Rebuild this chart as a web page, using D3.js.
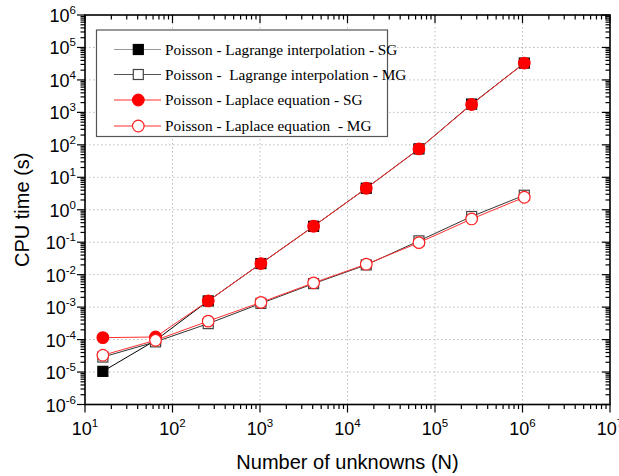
<!DOCTYPE html>
<html><head><meta charset="utf-8">
<script src="https://cdn.jsdelivr.net/npm/d3@7"></script>
<style>body{margin:0;background:#fff}svg{display:block}</style>
</head><body>
<svg id="c" width="619" height="476"></svg>
<script>
// ---- data ----
const unknowns = [16, 64, 256, 1024, 4096, 16384, 65536, 262144, 1048576];
const lagrangeSG = [1.05e-5, 9.5e-5, 1.55e-3, 2.2e-2, 0.31, 4.6, 75, 1.8e3, 3.3e4];
const lagrangeMG = [2.9e-5, 8.5e-5, 3.1e-4, 1.3e-3, 5.3e-3, 2.0e-2, 0.11, 0.62, 2.8];
const laplaceSG  = [1.15e-4, 1.2e-4, 1.55e-3, 2.2e-2, 0.31, 4.6, 75, 1.75e3, 3.3e4];
const laplaceMG  = [3.3e-5, 9.5e-5, 3.7e-4, 1.4e-3, 5.6e-3, 2.1e-2, 0.097, 0.52, 2.43];
const seriesNames = ["Poisson - Lagrange interpolation - SG", "Poisson -  Lagrange interpolation - MG",
                     "Poisson - Laplace equation - SG", "Poisson - Laplace equation  - MG"];
const xExps = [1, 2, 3, 4, 5, 6, 7];
const yExps = [-6, -5, -4, -3, -2, -1, 0, 1, 2, 3, 4, 5, 6];

const series = [
  {name: seriesNames[0], values: lagrangeSG, shape: "square", fill: "#000", stroke: "#000", line: "#000", legLine: "#999"},
  {name: seriesNames[1], values: lagrangeMG, shape: "square", fill: "#fff", stroke: "#444", line: "#333", legLine: "#555"},
  {name: seriesNames[2], values: laplaceSG, shape: "circle", fill: "#ff0000", stroke: "#ff0000", line: "#ff3030", legLine: "#ff3030"},
  {name: seriesNames[3], values: laplaceMG, shape: "circle", fill: "#fff", stroke: "#ff2020", line: "#ff3030", legLine: "#ff3030"}
];

const svg = d3.select("#c");
const L = 85, R = 610, T = 15, B = 404.5;
const x = d3.scaleLog().domain([1e1, 1e7]).range([L, R]);
const y = d3.scaleLog().domain([1e-6, 1e6]).range([B, T]);

// grid
const g = svg.append("g");
xExps.slice(1, -1).forEach(e => g.append("line").attr("x1", x(10 ** e)).attr("x2", x(10 ** e)).attr("y1", T).attr("y2", B)
  .attr("stroke", "#bdbdbd").attr("stroke-dasharray", "1.5,2.5"));
yExps.slice(1, -1).forEach(e => g.append("line").attr("y1", y(10 ** e)).attr("y2", y(10 ** e)).attr("x1", L).attr("x2", R)
  .attr("stroke", "#bdbdbd").attr("stroke-dasharray", "1.5,2.5"));

// minor/major ticks
function minorVals(exps) {
  const out = [];
  for (let i = 0; i < exps.length - 1; i++) for (let k = 2; k <= 9; k++) out.push(k * 10 ** exps[i]);
  return out;
}
const tk = svg.append("g").attr("stroke", "#000").attr("stroke-width", 1.2);
xExps.forEach(e => {
  const px = x(10 ** e);
  tk.append("line").attr("x1", px).attr("x2", px).attr("y1", B).attr("y2", B + 8);
  tk.append("line").attr("x1", px).attr("x2", px).attr("y1", T).attr("y2", T + 8);
});
minorVals(xExps).forEach(v => {
  const px = x(v);
  tk.append("line").attr("x1", px).attr("x2", px).attr("y1", B).attr("y2", B + 4.5);
  tk.append("line").attr("x1", px).attr("x2", px).attr("y1", T).attr("y2", T + 4.5);
});
yExps.forEach(e => {
  const py = y(10 ** e);
  tk.append("line").attr("y1", py).attr("y2", py).attr("x1", L - 8).attr("x2", L);
  tk.append("line").attr("y1", py).attr("y2", py).attr("x1", R - 8).attr("x2", R);
});
minorVals(yExps).forEach(v => {
  const py = y(v);
  tk.append("line").attr("y1", py).attr("y2", py).attr("x1", L - 4.5).attr("x2", L);
  tk.append("line").attr("y1", py).attr("y2", py).attr("x1", R - 4.5).attr("x2", R);
});

// frame
svg.append("rect").attr("x", L).attr("y", T).attr("width", R - L).attr("height", B - T)
  .attr("fill", "none").attr("stroke", "#000").attr("stroke-width", 1.6);

// tick labels
const font = "Liberation Sans, Arial, sans-serif";
xExps.forEach(e => {
  const t = svg.append("text").attr("x", x(10 ** e)).attr("y", 435).attr("text-anchor", "middle")
    .attr("font-family", font).attr("font-size", 18);
  t.append("tspan").text("10");
  t.append("tspan").attr("dy", -8).attr("font-size", 11.5).text(e);
});
yExps.forEach(e => {
  const t = svg.append("text").attr("x", 76).attr("y", y(10 ** e) + 7).attr("text-anchor", "end")
    .attr("font-family", font).attr("font-size", 18);
  t.append("tspan").text("10");
  t.append("tspan").attr("dy", -8).attr("font-size", 11.5).text(e < 0 ? "-" + (-e) : e);
});

// axis titles
svg.append("text").attr("x", (L + R) / 2).attr("y", 469).attr("text-anchor", "middle")
  .attr("font-family", font).attr("font-size", 20).text("Number of unknowns (N)");
svg.append("text").attr("transform", `translate(29,${(T + B) / 2}) rotate(-90)`).attr("text-anchor", "middle")
  .attr("font-family", font).attr("font-size", 20).text("CPU time (s)");

// series
function marker(sel, s, cx, cy) {
  if (s.shape === "square") {
    sel.append("rect").attr("x", cx - 5).attr("y", cy - 5).attr("width", 10).attr("height", 10)
      .attr("fill", s.fill).attr("stroke", s.stroke).attr("stroke-width", 1.2);
  } else {
    sel.append("circle").attr("cx", cx).attr("cy", cy).attr("r", 5.8)
      .attr("fill", s.fill).attr("stroke", s.stroke).attr("stroke-width", 1.2);
  }
}
const line = d3.line().x(d => x(d[0])).y(d => y(d[1]));
series.forEach(s => {
  const pts = unknowns.map((n, i) => [n, s.values[i]]);
  const sg = svg.append("g");
  sg.append("path").attr("d", line(pts)).attr("fill", "none").attr("stroke", s.line).attr("stroke-width", 1);
  pts.forEach(p => marker(sg, s, x(p[0]), y(p[1])));
});

// legend
const lg = svg.append("g");
lg.append("rect").attr("x", 96.5).attr("y", 30).attr("width", 291).attr("height", 106.5)
  .attr("fill", "#fff").attr("stroke", "#555").attr("stroke-width", 1.2);
const rowY = [49.5, 74.5, 100, 126];
series.forEach((s, i) => {
  lg.append("line").attr("x1", 114).attr("x2", 161).attr("y1", rowY[i]).attr("y2", rowY[i])
    .attr("stroke", s.legLine).attr("stroke-width", 1.2);
  marker(lg, s, 138.3, rowY[i]);
  lg.append("text").attr("x", 165).attr("y", rowY[i] + 5).attr("font-family", "Liberation Serif, Times New Roman, serif")
    .attr("font-size", 15.3).style("white-space", "pre").text(s.name);
});
</script>
</body></html>
